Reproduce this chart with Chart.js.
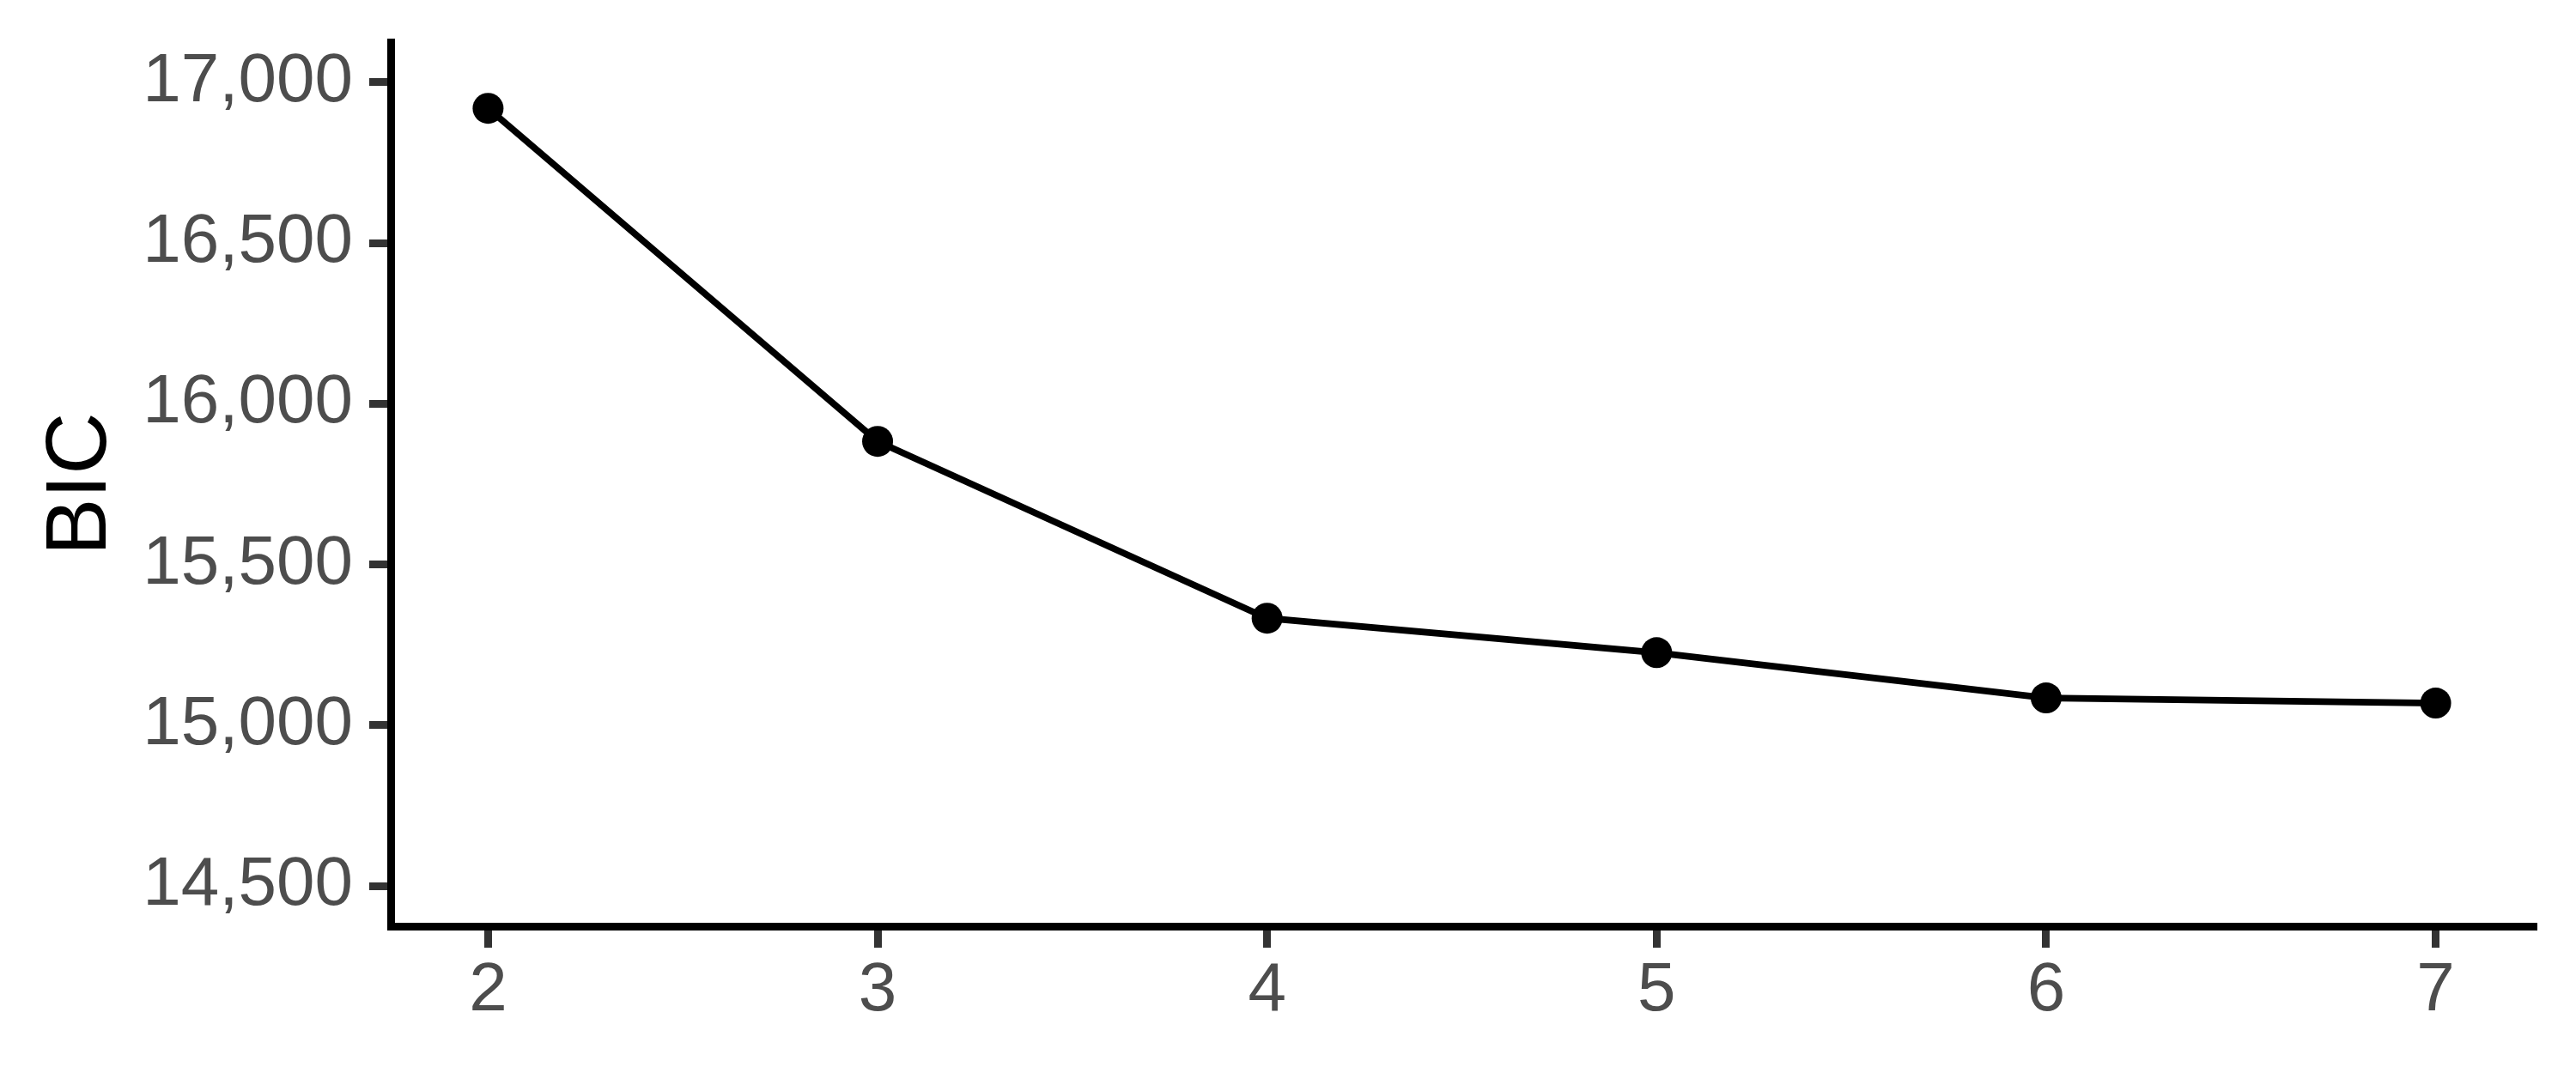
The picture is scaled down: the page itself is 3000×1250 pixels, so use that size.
<!DOCTYPE html>
<html>
<head>
<meta charset="utf-8">
<script src="https://cdn.jsdelivr.net/npm/chart.js@4.4.1/dist/chart.umd.min.js"></script>
<style>
  html, body { margin: 0; padding: 0; background: #ffffff; }
  #wrap { width: 3000px; height: 1250px; }
</style>
</head>
<body>
<div id="wrap"><canvas id="c" width="3000" height="1250"></canvas></div>
<script>
// ---- data ----
const clusters = [2, 3, 4, 5, 6, 7];
const bicValues = [16919, 15883, 15333, 15226, 15085, 15069];
const xTicks = [2, 3, 4, 5, 6, 7];
const yTicks = [14500, 15000, 15500, 16000, 16500, 17000];
const yTitle = 'BIC';

const FONT = '"Liberation Sans", Arial, Helvetica, sans-serif';
const points = clusters.map((x, i) => ({ x: x, y: bicValues[i] }));

new Chart(document.getElementById('c'), {
  type: 'line',
  data: {
    datasets: [{
      data: points,
      borderColor: '#000000',
      backgroundColor: '#000000',
      borderWidth: 7.8,
      pointRadius: 18,
      pointHoverRadius: 18,
      pointBorderWidth: 0,
      pointBackgroundColor: '#000000',
      tension: 0,
      fill: false
    }]
  },
  options: {
    responsive: false,
    devicePixelRatio: 1,
    animation: false,
    events: [],
    layout: { padding: { left: 0, top: 49, right: 50, bottom: 0 } },
    plugins: { legend: { display: false }, tooltip: { enabled: false } },
    scales: {
      x: {
        type: 'linear',
        min: 1.75,
        max: 7.25,
        afterBuildTicks: s => { s.ticks = xTicks.map(v => ({ value: v })); },
        afterFit: s => { s.height = 171; s.paddingLeft = 0; s.paddingRight = 0; },
        grid: { display: true, drawOnChartArea: false, drawTicks: true, tickLength: 25, color: '#333333', lineWidth: 9 },
        border: { display: true, color: '#000000', width: 9 },
        ticks: {
          color: '#4D4D4D',
          padding: 3,
          maxRotation: 0,
          autoSkip: false,
          font: { family: FONT, size: 80 },
          callback: v => String(v)
        }
      },
      y: {
        type: 'linear',
        min: 14375,
        max: 17125,
        afterBuildTicks: s => { s.ticks = yTicks.map(v => ({ value: v })); },
        afterFit: s => { s.width = 455; s.paddingTop = 0; s.paddingBottom = 0; },
        grid: { display: true, drawOnChartArea: false, drawTicks: true, tickLength: 25, color: '#333333', lineWidth: 9 },
        border: { display: true, color: '#000000', width: 9 },
        ticks: {
          color: '#4D4D4D',
          padding: 19,
          autoSkip: false,
          font: { family: FONT, size: 80 },
          callback: v => Number(v).toLocaleString('en-US')
        },
        title: {
          display: true,
          text: yTitle,
          color: '#000000',
          padding: { top: 35, bottom: 0 },
          font: { family: FONT, size: 100 }
        }
      }
    }
  }
});
</script>
</body>
</html>
